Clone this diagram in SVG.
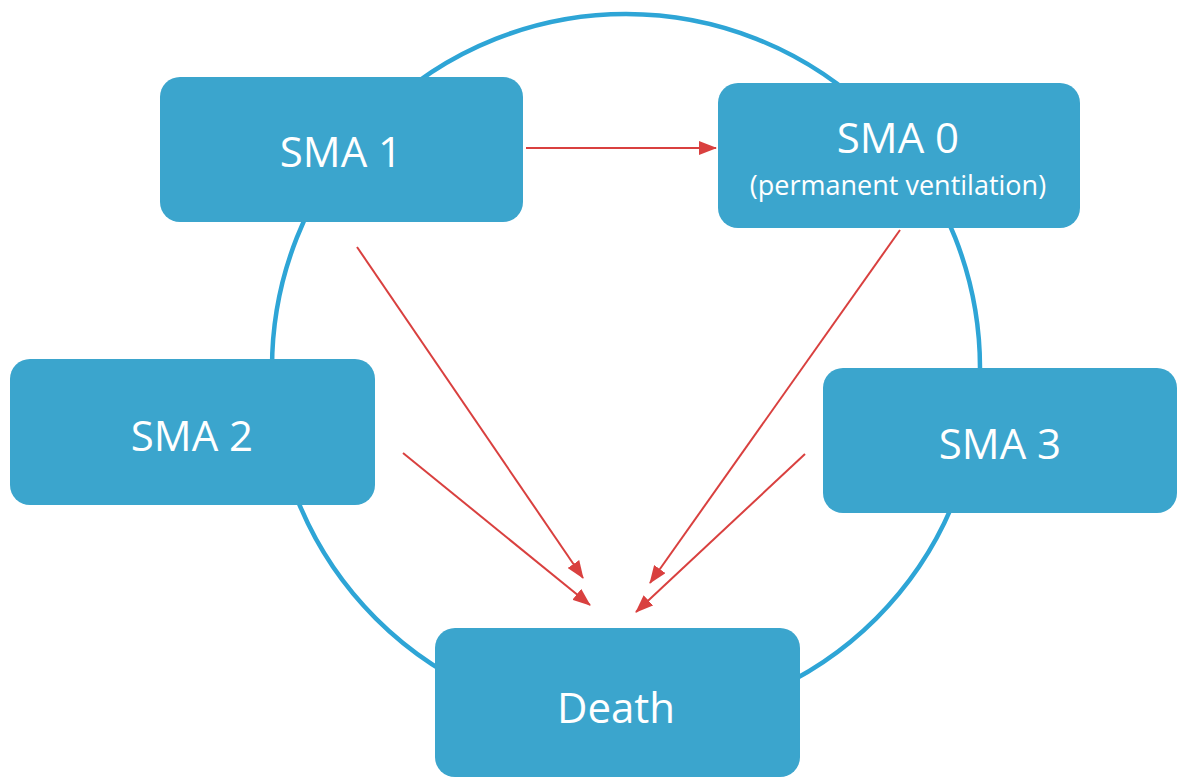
<svg xmlns="http://www.w3.org/2000/svg" width="1180" height="779" viewBox="0 0 1180 779">
<defs>
<style>
.box{fill:#3ba5cd;}
.lbl{fill:#ffffff;font-family:"Open Sans","Noto Sans","DejaVu Sans",sans-serif;text-anchor:middle;}
.big{font-size:42px;}
.small{font-size:27px;}
.conn{stroke:#d9403f;stroke-width:2;fill:none;marker-end:url(#ah);}
</style>
<marker id="ah" markerUnits="userSpaceOnUse" markerWidth="18" markerHeight="14" refX="17" refY="7" orient="auto">
<path d="M0,0 L18,7 L0,14 Z" fill="#d9403f"/>
</marker>
</defs>
<rect width="1180" height="779" fill="#ffffff"/>
<g id="ring">
<circle cx="626" cy="368" r="354" fill="none" stroke="#2ea5d6" stroke-width="4.5"/>
</g>
<g id="sma1">
<rect class="box" x="160" y="77" width="363" height="145" rx="20"/>
<text class="lbl big" x="341" y="167">SMA 1</text>
</g>
<g id="sma0">
<rect class="box" x="718" y="83" width="362" height="145" rx="20"/>
<text class="lbl big" x="898" y="153">SMA 0</text>
<text class="lbl small" x="898" y="195">(permanent ventilation)</text>
</g>
<g id="sma2">
<rect class="box" x="10" y="359" width="365" height="146" rx="20"/>
<text class="lbl big" x="192" y="451">SMA 2</text>
</g>
<g id="sma3">
<rect class="box" x="823" y="368" width="354" height="145" rx="20"/>
<text class="lbl big" x="1000" y="459">SMA 3</text>
</g>
<g id="death">
<rect class="box" x="435" y="628" width="365" height="149" rx="20"/>
<text class="lbl big" x="616" y="723">Death</text>
</g>
<g id="connectors">
<line class="conn" x1="526" y1="148" x2="716" y2="148"/>
<line class="conn" x1="357" y1="247" x2="583" y2="578"/>
<line class="conn" x1="403" y1="453" x2="590" y2="605"/>
<line class="conn" x1="900" y1="230" x2="650" y2="583"/>
<line class="conn" x1="805" y1="454" x2="636" y2="612"/>
</g>
</svg>
